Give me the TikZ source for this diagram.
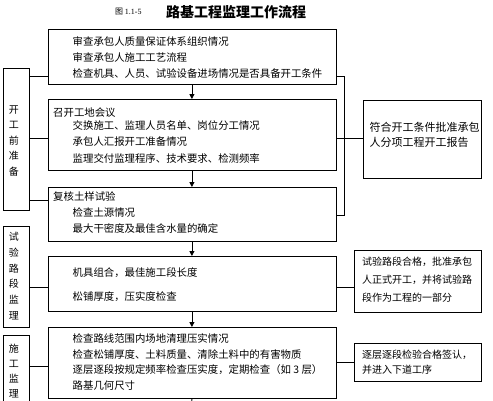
\documentclass[tikz,border=0pt]{standalone}
\usepackage{fontspec}
\setmainfont{Noto Sans CJK SC}
\newfontfamily\latinserif{Liberation Serif}
\usetikzlibrary{arrows.meta}
\begin{document}
\begin{tikzpicture}[x=1pt,y=-1pt,
  box/.style={draw, line width=0.8pt, anchor=north west, inner sep=0pt},
  txt/.style={anchor=west, inner sep=0pt, font=\fontsize{10.4}{12}\selectfont},
  rtxt/.style={anchor=west, inner sep=0pt, font=\fontsize{10}{12}\selectfont},
  wtxt/.style={anchor=west, inner sep=0pt, font=\fontsize{11}{12}\selectfont},
  vlab/.style={anchor=center, inner sep=0pt, align=center},
  ln/.style={line width=0.8pt},
  arr/.style={line width=0.8pt, -{Triangle[length=5pt,width=5pt]}}]
\useasboundingbox (0,0) rectangle (493,400);
% title
\node[anchor=west, inner sep=0pt, font=\fontsize{8}{9}\selectfont] (fig) at (115,12) {图 {\latinserif 1.1-5}};
\node[anchor=west, inner sep=0pt, font=\fontsize{14}{16}\bfseries] (title) at (166,12) {路基工程监理工作流程};
% main boxes
\node[box, minimum width=288pt, minimum height=55pt] (b1) at (47.5,28.5) {};
\node[box, minimum width=288pt, minimum height=71pt] (b2) at (47.5,99) {};
\node[box, minimum width=288pt, minimum height=54pt] (b3) at (47.5,187) {};
\node[box, minimum width=288pt, minimum height=55pt] (b4) at (47.5,256) {};
\node[box, minimum width=288pt, minimum height=71pt] (b5) at (47.5,327) {};
% left label boxes
\node[box, minimum width=26pt, minimum height=142pt] (l1) at (2.5,67.5) {};
\node[box, minimum width=26pt, minimum height=101pt] (l2) at (2.5,225.5) {};
\node[box, minimum width=26pt, minimum height=80pt] (l3) at (2.5,334.5) {};
% right boxes
\node[box, minimum width=118pt, minimum height=78pt] (r1) at (363,99.5) {};
\node[box, minimum width=127pt, minimum height=62pt] (r2) at (354,249.5) {};
\node[box, minimum width=127pt, minimum height=38pt] (r3) at (354,343) {};
% texts box 1
\node[txt] (t11) at (72.5,42) {审查承包人质量保证体系组织情况};
\node[txt] (t12) at (72.5,58) {审查承包人施工工艺流程};
\node[txt] (t13) at (72.5,74) {检查机具、人员、试验设备进场情况是否具备开工条件};
% box 2
\node[txt] (t21) at (53,112.5) {召开工地会议};
\node[txt] (t22) at (72.5,125.5) {交换施工、监理人员名单、岗位分工情况};
\node[txt] (t23) at (72.5,142) {承包人汇报开工准备情况};
\node[txt] (t24) at (72.5,158.5) {监理交付监理程序、技术要求、检测频率};
% box 3
\node[txt] (t31) at (53,197) {复核土样试验};
\node[txt] (t32) at (72.5,213) {检查土源情况};
\node[txt] (t33) at (72.5,229) {最大干密度及最佳含水量的确定};
% box 4
\node[txt] (t41) at (72.5,273) {机具组合，最佳施工段长度};
\node[txt] (t42) at (72.5,297) {松铺厚度，压实度检查};
% box 5
\node[txt] (t51) at (72.5,339) {检查路线范围内场地清理压实情况};
\node[txt] (t52) at (72.5,354.5) {检查松铺厚度、土料质量、清除土料中的有害物质};
\node[txt] (t53) at (72.5,370) {逐层逐段按规定频率检查压实度，定期检查（如 3 层）};
\node[txt] (t54) at (72.5,386) {路基几何尺寸};
% right texts
\node[wtxt] (s11) at (369.5,127) {符合开工条件批准承包};
\node[wtxt] (s12) at (369.5,142.5) {人分项工程开工报告};
\node[rtxt] (s21) at (362,262) {试验路段合格，批准承包};
\node[rtxt] (s22) at (362,280) {人正式开工，并将试验路};
\node[rtxt] (s23) at (362,298) {段作为工程的一部分};
\node[rtxt] (s31) at (362,354.5) {逐层逐段检验合格签认，};
\node[rtxt] (s32) at (362,370) {并进入下道工序};
% left labels
\node[vlab, font=\fontsize{10}{15.5}\selectfont] (v1) at (14,141) {开\\工\\前\\准\\备};
\node[vlab, font=\fontsize{10}{15.7}\selectfont] (v2) at (14,276) {试\\验\\路\\段\\监\\理};
\node[vlab, font=\fontsize{10}{15.2}\selectfont] (v3) at (14,371) {施\\工\\监\\理};
% arrows
\draw[arr] (b1.south) -- (b2.north);
\draw[arr] (b2.south) -- (b3.north);
\draw[arr] (b3.south) -- (b4.north);
\draw[arr] (b4.south) -- (b5.north);
\coordinate (bend) at (191.5,410);
\draw[ln] (b5.south) -- (bend);
% left connectors
\draw[ln] (l1.east |- 0,76.5) -- (b1.west |- 0,76.5);
\draw[ln] (l1.east |- 0,138.5) -- (b2.west |- 0,138.5);
\draw[ln] (l1.east |- 0,200.5) -- (b3.west |- 0,200.5);
\draw[ln] (l2.east |- 0,287) -- (b4.west |- 0,287);
\draw[ln] (l3.east |- 0,366.5) -- (b5.west |- 0,366.5);
% right connectors
\coordinate (rk) at (344.5,0);
\draw[ln] (b1.east |- 0,76.5) -- (rk |- 0,76.5) -- (rk |- 0,215.5) -- (b3.east |- 0,215.5);
\draw[ln] (b2.east |- 0,138.5) -- (r1.west |- 0,138.5);
\draw[ln] (b4.east |- 0,287.5) -- (r2.west |- 0,287.5);
\draw[ln] (b5.east |- 0,362.5) -- (r3.west |- 0,362.5);
\end{tikzpicture}
\end{document}
